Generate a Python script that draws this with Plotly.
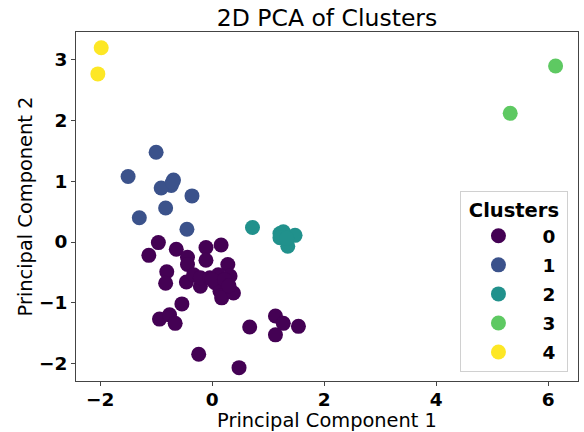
import plotly.graph_objects as go

# Cluster 0
c0_x = [-0.96, -1.13, -0.64, -0.44, -0.11, 0.16, -0.11, -0.44, 0.28, -0.81, -0.83, -0.46,
        -0.33, -0.21, -0.21, -0.04, 0.11, 0.32, 0.20, 0.14, 0.17, 0.38, 0.05, 0.00, 0.22,
        0.30, -0.54, -0.94, -0.76, -0.66, 0.67, 1.13, 1.27, 1.54, 1.13, -0.24, 0.48]
c0_y = [-0.01, -0.22, -0.12, -0.25, -0.09, -0.05, -0.30, -0.37, -0.37, -0.49, -0.68, -0.66,
        -0.54, -0.73, -0.59, -0.59, -0.54, -0.56, -0.70, -0.81, -0.92, -0.84, -0.67, -0.62,
        -0.62, -0.72, -1.02, -1.27, -1.20, -1.34, -1.40, -1.22, -1.34, -1.39, -1.53, -1.85, -2.07]
# Cluster 1
c1_x = [-1.00, -1.50, -0.69, -0.73, -0.91, -0.36, -0.83, -1.30, -0.45, -0.71]
c1_y = [1.48, 1.08, 1.02, 0.93, 0.89, 0.76, 0.56, 0.40, 0.21, 0.98]
# Cluster 2
c2_x = [0.72, 1.21, 1.27, 1.48, 1.35, 1.21, 1.33]
c2_y = [0.24, 0.14, 0.17, 0.11, -0.07, 0.07, 0.06]
# Cluster 3
c3_x = [6.13, 5.32]
c3_y = [2.90, 2.12]
# Cluster 4
c4_x = [-1.98, -2.04]
c4_y = [3.20, 2.77]

labels = ["0", "1", "2", "3", "4"]
colors = ["#440154", "#3b528b", "#21918c", "#5ec962", "#fde725"]
xs = [c0_x, c1_x, c2_x, c3_x, c4_x]
ys = [c0_y, c1_y, c2_y, c3_y, c4_y]

fig = go.Figure()
for lab, col, x, y in zip(labels, colors, xs, ys):
    fig.add_trace(go.Scatter(
        x=x, y=y, mode="markers", name="\u00a0" + lab + "\u00a0", legendgroup=lab,
        marker=dict(size=15, color=col, line=dict(width=0)),
    ))

axis_common = dict(
    showgrid=False, zeroline=False, showline=True, linecolor="#444", linewidth=1,
    mirror=True, ticks="outside", ticklen=4, tickcolor="#444", automargin=False,
    tickfont=dict(family="DejaVu Sans", size=18.5, color="black", weight="bold"),
    title_font=dict(family="DejaVu Sans", size=19.4, color="black"),
)

fig.update_layout(
    width=584, height=432,
    margin=dict(l=76, r=6, t=32, b=51, autoexpand=False),
    paper_bgcolor="white", plot_bgcolor="white",
    title=dict(text="2D PCA of Clusters", x=0.56, xanchor="center", y=0.958, yanchor="middle",
               font=dict(family="DejaVu Sans", size=23.5, color="black")),
    xaxis=dict(range=[-2.43, 6.53], tickvals=[-2, 0, 2, 4, 6], ticklabelstandoff=-2,
               title=dict(text="Principal Component 1", standoff=0), **axis_common),
    yaxis=dict(range=[-2.29, 3.46], tickvals=[-2, -1, 0, 1, 2, 3],
               title=dict(text="Principal Component 2", standoff=1), **axis_common),
    legend=dict(
        x=0.98, y=0.026, xanchor="right", yanchor="bottom",
        bgcolor="rgba(255,255,255,0.8)", bordercolor="#d0d0d0", borderwidth=1,
        font=dict(family="DejaVu Sans", size=18.5, color="black", weight="bold"),
        title=dict(text="Clusters", side="top center",
                   font=dict(family="DejaVu Sans", size=19.5, color="black", weight="bold")),
        tracegroupgap=2, itemwidth=65,
    ),
    showlegend=True,
)

fig.write_html("out.html", config={"displayModeBar": False},
               post_script="document.body.style.margin='0';")
